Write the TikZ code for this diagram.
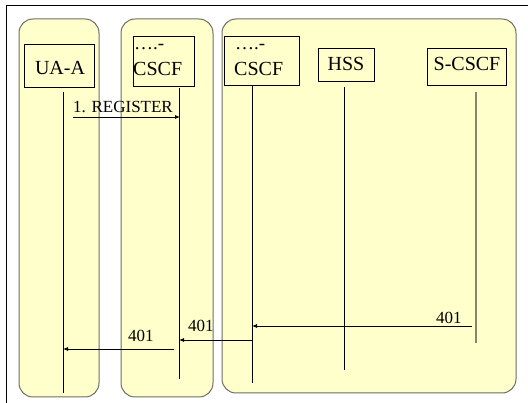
\documentclass[tikz,border=0pt]{standalone}
\usepackage{fontspec}
\setmainfont{Liberation Serif}
\usetikzlibrary{arrows.meta}
\definecolor{lanefill}{HTML}{FFFFCC}
\definecolor{laneedge}{HTML}{6E6E64}
\definecolor{greyline}{HTML}{86866E}
\begin{document}
\begin{tikzpicture}[x=1pt,y=-1pt,
  lane/.style={fill=lanefill,draw=laneedge,line width=1pt,rounded corners=14pt},
  entity/.style={draw=black,line width=0.8pt,inner sep=0pt},
  ename/.style={font=\fontsize{20}{22}\selectfont,inner sep=0pt},
  dots/.style={font=\fontsize{19}{21}\selectfont,inner sep=0pt},
  life/.style={line width=0.9pt},
  msg/.style={line width=0.8pt,-{Latex[length=5pt,width=4pt]}},
  mlabel/.style={font=\fontsize{17}{19}\selectfont,inner sep=0pt,anchor=base west}]
\useasboundingbox (0,0) rectangle (528,403);
% page frame, open towards the right and bottom
\draw[line width=0.8pt] (528,5) -- (6,5) -- (6,403);
% swim lanes
\draw[lane] (19,19) rectangle (99,397);
\draw[lane] (121,19) rectangle (213,397);
\draw[lane] (222,19) rectangle (516,393);
% entities
\node[entity,minimum width=70pt,minimum height=43pt] (ua) at (59,65.5) {};
\node[ename,anchor=base] (uat) at (60,75) {UA-A};
\node[entity,minimum width=61pt,minimum height=50pt] (pa) at (163.5,61) {};
\node[dots,anchor=base west] (pad) at (134,50) {….-};
\node[ename,anchor=base west] (pat) at (133,76) {CSCF};
\node[entity,minimum width=75pt,minimum height=49pt] (pb) at (261.5,60.5) {};
\node[dots,anchor=base west] (pbd) at (235,50) {….-};
\node[ename,anchor=base west] (pbt) at (234,76) {CSCF};
\node[entity,minimum width=56pt,minimum height=33pt] (hss) at (346,64.5) {};
\node[ename,anchor=base] (hsst) at (346,71) {HSS};
\node[entity,minimum width=79pt,minimum height=37pt] (sc) at (466.5,66.5) {};
\node[ename,anchor=base] (sct) at (467,71) {S-CSCF};
% lifelines
\coordinate (uaA) at (63,92);  \coordinate (uaB) at (63,393);
\coordinate (paA) at (179,88); \coordinate (paB) at (179,379);
\coordinate (pbA) at (252,86); \coordinate (pbB) at (252,383);
\coordinate (hsA) at (344,87); \coordinate (hsB) at (344,370);
\coordinate (scA) at (476,92); \coordinate (scB) at (476,343);
\draw[life] (uaA) -- (uaB);
\draw[life] (paA) -- (paB);
\draw[life] (pbA) -- (pbB);
\draw[life] (hsA) -- (hsB);
\draw[life,draw=greyline,line width=1.4pt] (scA) -- (scB);
% messages
\coordinate (m1s) at (73,117);  \coordinate (m1e) at (180,117);
\coordinate (m2s) at (472,326); \coordinate (m2e) at (252,326);
\coordinate (m3s) at (252,340); \coordinate (m3e) at (179,340);
\coordinate (m4s) at (174,349); \coordinate (m4e) at (63,349);
\draw[msg] (m1s) -- (m1e);
\draw[msg] (m2s) -- (m2e);
\draw[msg] (m3s) -- (m3e);
\draw[msg] (m4s) -- (m4e);
\node[mlabel] (l1) at (73,113) {1. REGISTER};
\node[mlabel] (l2) at (436,324) {401};
\node[mlabel] (l3) at (188,332) {401};
\node[mlabel] (l4) at (128,342) {401};
\end{tikzpicture}
\end{document}
